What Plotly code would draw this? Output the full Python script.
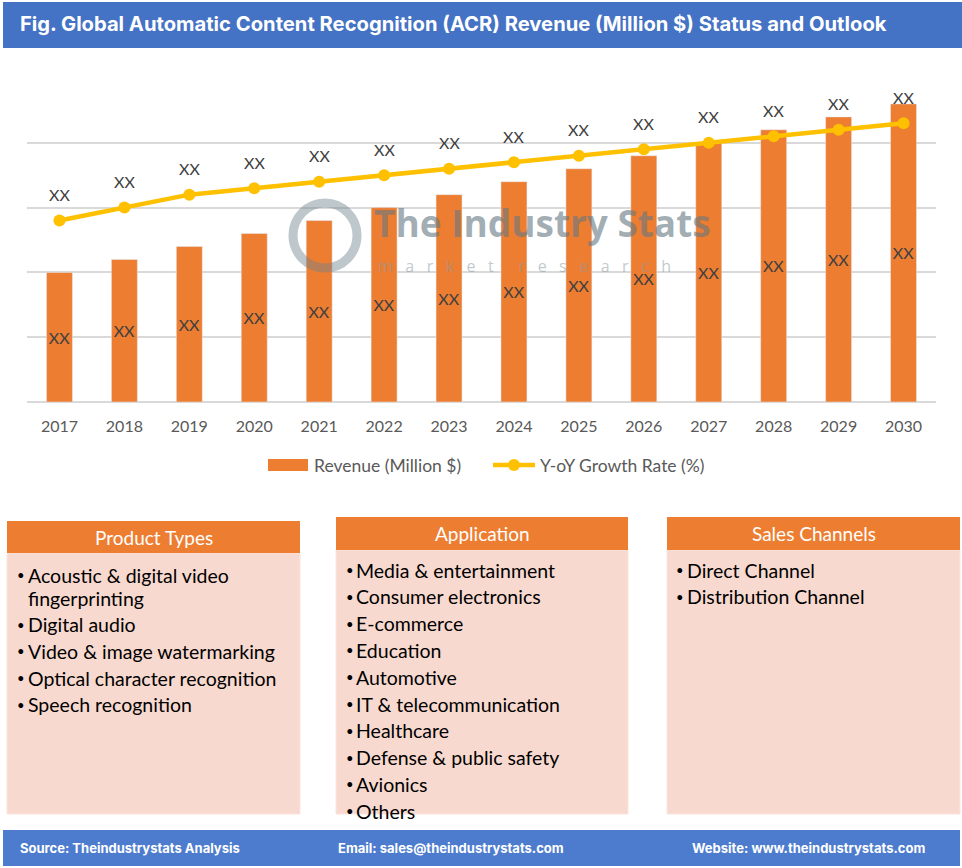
import plotly.graph_objects as go

# ---------------- data ----------------
years = ["2017", "2018", "2019", "2020", "2021", "2022", "2023",
         "2024", "2025", "2026", "2027", "2028", "2029", "2030"]
revenue = [2.0, 2.2, 2.4, 2.6, 2.8, 3.0, 3.2, 3.4, 3.6, 3.8, 4.0, 4.2, 4.4, 4.6]
growth = [2.8, 3.0, 3.2, 3.3, 3.4, 3.5, 3.6, 3.7, 3.8, 3.9, 4.0, 4.1, 4.2, 4.3]
bar_labels = ["XX", "XX", "XX", "XX", "XX", "XX", "XX", "XX", "XX", "XX", "XX", "XX", "XX", "XX"]
line_labels = ["XX", "XX", "XX", "XX", "XX", "XX", "XX", "XX", "XX", "XX", "XX", "XX", "XX", "XX"]

title_text = "Fig. Global Automatic Content Recognition (ACR) Revenue (Million $) Status and Outlook"
product_types = [["Acoustic & digital video", "fingerprinting"], ["Digital audio"],
                 ["Video & image watermarking"], ["Optical character recognition"],
                 ["Speech recognition"]]
applications = ["Media & entertainment", "Consumer electronics", "E-commerce", "Education",
                "Automotive", "IT & telecommunication", "Healthcare",
                "Defense & public safety", "Avionics", "Others"]
sales_channels = ["Direct Channel", "Distribution Channel"]
footer_items = ["Source: Theindustrystats Analysis", "Email: sales@theindustrystats.com",
                "Website: www.theindustrystats.com"]

# ---------------- style ----------------
W, H = 962, 868
BLUE = "#4472C4"
ORANGE = "#ED7D31"
GOLD = "#FFC000"
PINK = "#F8D9CF"
GRID = "#D9D9D9"
BODY_FONT = "Lato"
HEAD_FONT = "Inter"


def px(x):
    return x / W


def py(y):
    return 1 - y / H


fig = go.Figure()

fig.add_trace(go.Bar(
    x=years, y=revenue, name="Revenue (Million $)", marker_color=ORANGE,
    width=0.4, text=bar_labels, textposition="inside", insidetextanchor="middle",
    textangle=0, constraintext="none",
    textfont=dict(family=BODY_FONT, size=16, color="#404040"), showlegend=False,
    hoverinfo="x+y",
))
fig.add_trace(go.Scatter(
    x=years, y=growth, name="Y-oY Growth Rate (%)", mode="lines+markers",
    line=dict(color=GOLD, width=4.5), marker=dict(color=GOLD, size=12),
    showlegend=False,
))

shapes = []
annotations = []

# line labels (category index positions on the category axis)
for i, (g, t) in enumerate(zip(growth, line_labels)):
    annotations.append(dict(x=i, y=g, xref="x", yref="y", text=t, showarrow=False,
                            yshift=26, font=dict(family=BODY_FONT, size=16, color="#404040")))

# title bar
shapes.append(dict(type="rect", xref="paper", yref="paper", x0=px(3), x1=px(962),
                   y0=py(48), y1=py(2), fillcolor=BLUE, line_width=0, layer="below"))
annotations.append(dict(x=px(18), y=py(23), xref="paper", yref="paper", xanchor="left",
                        yanchor="middle", showarrow=False, text="<b>" + title_text + "</b>",
                        font=dict(family=HEAD_FONT, size=20.2, color="white")))

# footer bar
shapes.append(dict(type="rect", xref="paper", yref="paper", x0=px(3), x1=px(960),
                   y0=py(866), y1=py(830), fillcolor="#4D7CCF", line_width=0, layer="below"))
for xpos, t in zip([18, 336, 690], footer_items):
    annotations.append(dict(x=px(xpos), y=py(848), xref="paper", yref="paper", xanchor="left",
                            yanchor="middle", showarrow=False, text="<b>" + t + "</b>",
                            font=dict(family=HEAD_FONT, size=13, color="white")))

# watermark
shapes.append(dict(type="circle", xref="paper", yref="paper", x0=px(293), x1=px(357),
                   y0=py(268), y1=py(203), line=dict(color="rgba(110,130,140,0.45)", width=9)))
annotations.append(dict(x=px(372), y=py(222), xref="paper", yref="paper", xanchor="left",
                        yanchor="middle", showarrow=False, text="<b>The Industry Stats</b>",
                        font=dict(family="Open Sans", size=37, color="rgba(100,120,130,0.6)")))
annotations.append(dict(x=px(376), y=py(266), xref="paper", yref="paper", xanchor="left",
                        yanchor="middle", showarrow=False,
                        text="m&nbsp;&nbsp;&nbsp;a&nbsp;&nbsp;&nbsp;r&nbsp;&nbsp;&nbsp;k&nbsp;&nbsp;&nbsp;e&nbsp;&nbsp;&nbsp;t&nbsp;&nbsp;&nbsp;&nbsp;&nbsp;&nbsp;r&nbsp;&nbsp;&nbsp;e&nbsp;&nbsp;&nbsp;s&nbsp;&nbsp;&nbsp;e&nbsp;&nbsp;&nbsp;a&nbsp;&nbsp;&nbsp;r&nbsp;&nbsp;&nbsp;c&nbsp;&nbsp;&nbsp;h",
                        font=dict(family="Open Sans", size=16, color="rgba(140,155,165,0.55)")))

# custom legend
shapes.append(dict(type="rect", xref="paper", yref="paper", x0=px(268), x1=px(308),
                   y0=py(471), y1=py(459), fillcolor=ORANGE, line_width=0))
annotations.append(dict(x=px(312), y=py(465), xref="paper", yref="paper", xanchor="left",
                        yanchor="middle", showarrow=False, text="Revenue (Million $)",
                        font=dict(family=BODY_FONT, size=17.5, color="#595959")))
shapes.append(dict(type="line", xref="paper", yref="paper", x0=px(493), x1=px(535),
                   y0=py(465), y1=py(465), line=dict(color=GOLD, width=4.5)))
shapes.append(dict(type="circle", xref="paper", yref="paper", x0=px(508), x1=px(520),
                   y0=py(471), y1=py(459), fillcolor=GOLD, line_width=0))
annotations.append(dict(x=px(538), y=py(465), xref="paper", yref="paper", xanchor="left",
                        yanchor="middle", showarrow=False, text="Y-oY Growth Rate (%)",
                        font=dict(family=BODY_FONT, size=17.5, color="#595959")))


# boxes
def add_box(x0, x1, head_top, head_bot, body_bot, header):
    shapes.append(dict(type="rect", xref="paper", yref="paper", x0=px(x0), x1=px(x1),
                       y0=py(body_bot), y1=py(head_bot), fillcolor=PINK,
                       line=dict(color="#FBE5DD", width=1), layer="below"))
    shapes.append(dict(type="rect", xref="paper", yref="paper", x0=px(x0), x1=px(x1),
                       y0=py(head_bot), y1=py(head_top), fillcolor=ORANGE, line_width=0,
                       layer="below"))
    annotations.append(dict(x=px((x0 + x1) / 2), y=py((head_top + head_bot) / 2),
                            xref="paper", yref="paper", xanchor="center", yanchor="middle",
                            showarrow=False, text=header,
                            font=dict(family=BODY_FONT, size=19, color="white")))


def add_item(bx, tx, y, text, bullet=True):
    if bullet:
        annotations.append(dict(x=px(bx), y=py(y), xref="paper", yref="paper",
                                xanchor="left", yanchor="middle", showarrow=False, text="•",
                                font=dict(family=BODY_FONT, size=13, color="black")))
    annotations.append(dict(x=px(tx), y=py(y), xref="paper", yref="paper", xanchor="left",
                            yanchor="middle", showarrow=False, text=text,
                            font=dict(family=BODY_FONT, size=19.5, color="black")))


add_box(7, 300, 521, 553, 814, "Product Types")
add_box(336, 628, 517, 550, 814, "Application")
add_box(667, 960, 517, 550, 814, "Sales Channels")

yy = 575
for item in product_types:
    for j, line in enumerate(item):
        add_item(15, 26, yy, line, bullet=(j == 0))
        yy += 23 if j < len(item) - 1 else 26.7

for i, a in enumerate(applications):
    add_item(344, 354, 570 + 26.8 * i, a)

for i, s in enumerate(sales_channels):
    add_item(674, 685, 570 + 26.8 * i, s)

fig.update_layout(
    width=W, height=H, margin=dict(l=0, r=0, t=0, b=0),
    paper_bgcolor="white", plot_bgcolor="white",
    shapes=shapes, annotations=annotations, bargap=0.6,
    uniformtext=dict(minsize=16, mode="show"),
    xaxis=dict(domain=[px(27), px(936)], type="category", range=[-0.5, 13.5],
               showgrid=False, showline=False, ticks="outside", ticklen=10,
               tickcolor="rgba(0,0,0,0)",
               tickfont=dict(family=BODY_FONT, size=16, color="#595959"), fixedrange=True),
    yaxis=dict(domain=[py(402), py(78)], range=[0, 5], dtick=1, showticklabels=False,
               showgrid=True, gridcolor=GRID, gridwidth=1.5, zeroline=True,
               zerolinecolor=GRID, zerolinewidth=1.5, showline=False, fixedrange=True),
)

fig.write_html("out.html", config={"displayModeBar": False},
               post_script="document.body.style.margin='0';document.body.style.padding='0';")
